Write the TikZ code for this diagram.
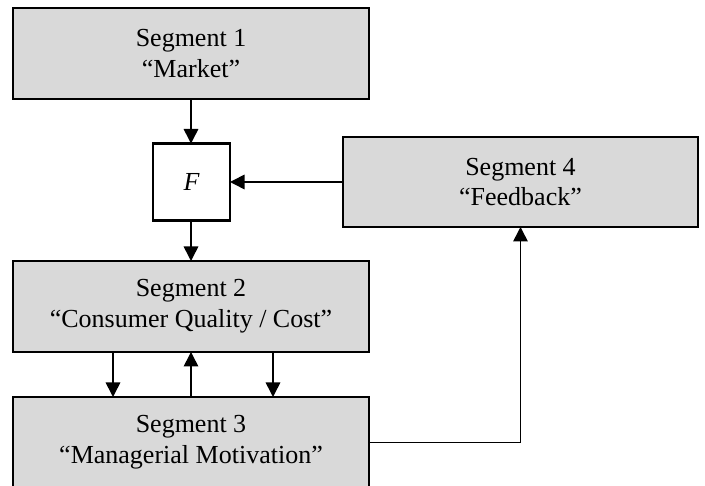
\documentclass[tikz,border=0pt]{standalone}
\usepackage{fontspec}
\setmainfont{Liberation Serif}
\usetikzlibrary{arrows.meta}
\begin{document}
\begin{tikzpicture}[x=1pt,y=-1pt,
  seg/.style={draw=black,fill={rgb,255:red,217;green,217;blue,217},line width=2.4pt,
    minimum width=356pt,minimum height=91pt,inner sep=0pt,outer sep=0pt,
    align=center,font=\fontsize{26}{30.7}\selectfont},
  fbox/.style={draw=black,fill=white,line width=2.4pt,minimum width=77pt,minimum height=77pt,
    inner sep=0pt,outer sep=0pt,font=\fontsize{26}{30.7}\selectfont\itshape},
  arr/.style={line width=1.6pt,-{Triangle[length=14.5pt,width=14.5pt]}}]
\useasboundingbox (0,0) rectangle (705,486);
\node[seg] (s1) at (191,53.5) {Segment 1\\“Market”};
\node[fbox] (f) at (191.5,182) {F};
\node[seg,minimum width=355pt,minimum height=90pt] (s4) at (520.5,182) {Segment 4\\“Feedback”};
\node[seg] (s2) at (191,306.5) {Segment 2\\“Consumer Quality / Cost”};
\node[seg] (s3) at (191,442.5) {Segment 3\\“Managerial Motivation”};
\draw[arr] (s1.south) -- (s1.south |- f.north);
\draw[arr] (f.south -| s2.north) -- (s2.north);
\draw[arr] (s4.west) -- (f.east);
\draw[arr] ([xshift=-78pt]s2.south) -- ([xshift=-78pt]s3.north);
\draw[arr] (s3.north) -- (s2.south);
\draw[arr] ([xshift=82pt]s2.south) -- ([xshift=82pt]s3.north);
\draw[arr] (s3.east) -| (s4.south);
\end{tikzpicture}
\end{document}
